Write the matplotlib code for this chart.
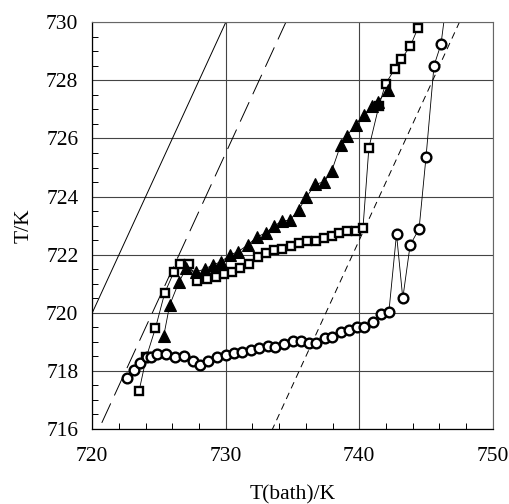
import numpy as np
import matplotlib.pyplot as plt
from matplotlib.ticker import MultipleLocator

# bath temperature / reactor temperature
sq_x = [723.51, 724.06, 724.73, 725.43, 726.12, 726.6, 727.24, 727.87, 728.58, 729.28,
        729.9, 730.5, 731.07, 731.72, 732.39, 733.01, 733.63, 734.21, 734.88, 735.5,
        736.12, 736.75, 737.37, 737.99, 738.49, 739.1, 739.73, 740.28, 740.72, 741.47,
        741.97, 742.64, 743.16, 743.83, 744.38]
sq_y = [717.32, 718.49, 719.47, 720.69, 721.41, 721.68, 721.68, 721.1, 721.15, 721.24,
        721.33, 721.39, 721.55, 721.67, 721.91, 722.05, 722.16, 722.19, 722.3, 722.39,
        722.48, 722.48, 722.56, 722.64, 722.76, 722.82, 722.82, 722.93, 725.68, 727.12,
        727.88, 728.38, 728.74, 729.18, 729.79]

tri_x = [725.35, 725.8, 726.5, 727.04, 727.74, 728.41, 729.03, 729.66, 730.3, 730.9,
         731.64, 732.31, 733.01, 733.63, 734.21, 734.8, 735.45, 736.04, 736.69, 737.37,
         737.94, 738.61, 739.06, 739.73, 740.35, 740.97, 741.4, 742.16]
tri_y = [719.2, 720.27, 721.07, 721.53, 721.41, 721.5, 721.65, 721.76, 721.99, 722.1,
         722.33, 722.6, 722.76, 722.99, 723.16, 723.19, 723.54, 723.98, 724.42, 724.51,
         724.89, 725.78, 726.09, 726.47, 726.81, 727.12, 727.27, 727.67]

circ_x = [722.57, 723.11, 723.61, 724.11, 724.38, 724.88, 725.5, 726.2, 726.87, 727.54,
          728.04, 728.7, 729.36, 729.98, 730.6, 731.22, 731.9, 732.46, 733.13, 733.7,
          734.33, 735.0, 735.63, 736.2, 736.79, 737.42, 737.99, 738.61, 739.23, 739.85,
          740.35, 741.02, 741.6, 742.22, 742.79, 743.26, 743.81, 744.48, 745.0, 745.6,
          746.12, 746.5]
circ_y = [717.75, 718.03, 718.26, 718.47, 718.49, 718.58, 718.58, 718.49, 718.51, 718.35,
          718.2, 718.35, 718.49, 718.55, 718.6, 718.66, 718.72, 718.78, 718.86, 718.83,
          718.93, 719.03, 719.03, 718.95, 718.97, 719.14, 719.16, 719.33, 719.41, 719.52,
          719.5, 719.69, 719.95, 720.04, 722.71, 720.5, 722.33, 722.89, 725.36, 728.51,
          729.24, 730.6]

# reference lines T = T(bath) - offset
ref_offsets = [0.0, 4.5, 17.5]

plt.rcParams['font.family'] = ['Liberation Serif', 'DejaVu Serif']

fig = plt.figure(figsize=(5.09, 5.04), dpi=100)
ax = fig.add_axes([0.1813, 0.1488, 0.7868, 0.807])

xx = np.array([710.0, 760.0])
ax.plot(xx, xx - ref_offsets[0], color='black', lw=0.7)
ax.plot(xx, xx - ref_offsets[1], color='black', lw=0.7, dashes=(22, 9))
ax.plot(xx, xx - ref_offsets[2], color='black', lw=0.7, dashes=(7, 5))

ax.plot(sq_x, sq_y, color='black', lw=0.6, marker='s', ms=6.2, mfc='white',
        mec='black', mew=1.7)
ax.plot(tri_x, tri_y, color='black', lw=0.6, marker='^', ms=8.5, mfc='black',
        mec='black', mew=0.8)
ax.plot(circ_x, circ_y, color='black', lw=0.6, marker='o', ms=7, mfc='white',
        mec='black', mew=1.7)

ax.set_xlim(720, 750)
ax.set_ylim(716, 730)
ax.xaxis.set_major_locator(MultipleLocator(10))
ax.xaxis.set_minor_locator(MultipleLocator(2))
ax.yaxis.set_major_locator(MultipleLocator(2))
ax.yaxis.set_minor_locator(MultipleLocator(0.5))
ax.tick_params(which='major', direction='in', length=0, labelsize=15.5)
ax.tick_params(axis='x', which='major', pad=13)
ax.tick_params(axis='y', which='major', pad=10)
ax.tick_params(which='minor', direction='in', length=4, width=0.7)
ax.grid(True, which='major', color='#444444', lw=0.8)

for s in ['left', 'bottom']:
    ax.spines[s].set_linewidth(0.9)
for s in ['top', 'right']:
    ax.spines[s].set_color('#666666')
    ax.spines[s].set_linewidth(0.8)

ax.set_xlabel('T(bath)/K', fontsize=15.5, labelpad=14)
ax.set_ylabel('T/K', fontsize=15.5, labelpad=9)

fig.savefig('out.png', dpi=100)
